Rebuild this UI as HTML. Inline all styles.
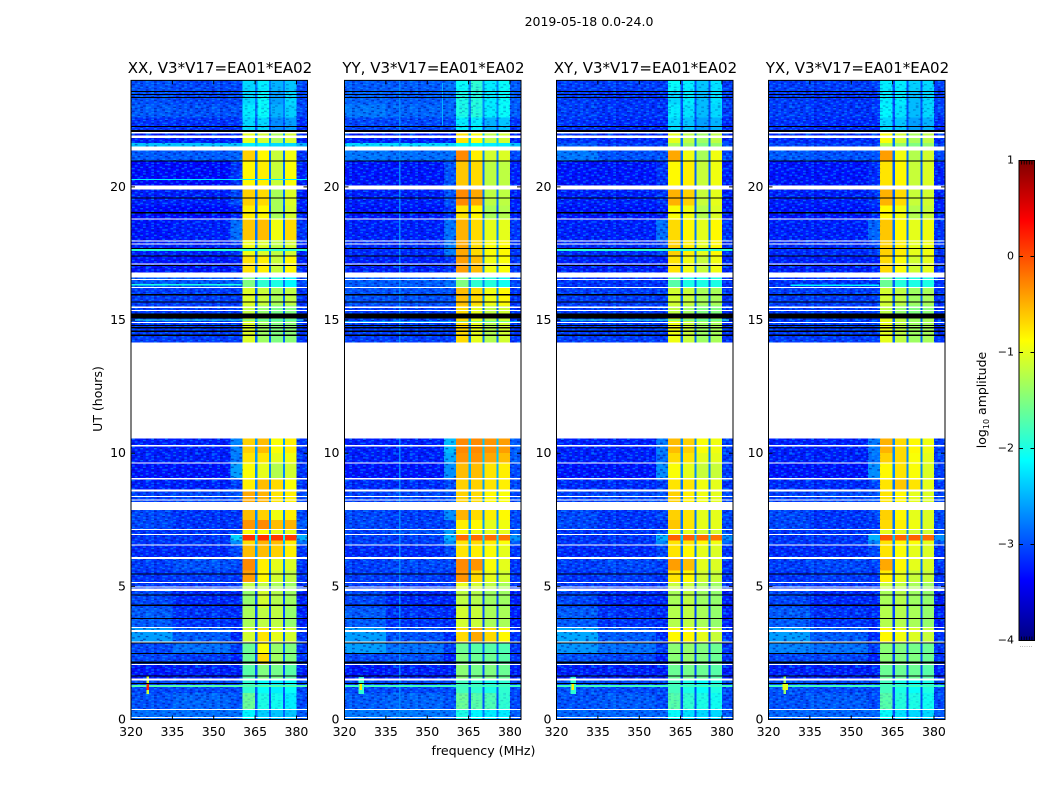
<!DOCTYPE html>
<html>
<head>
<meta charset="utf-8">
<title>2019-05-18 0.0-24.0</title>
<style>
html,body{margin:0;padding:0;background:#fff;}
svg{display:block;}
text{font-family:"DejaVu Sans","Liberation Sans",sans-serif;fill:#000;}
</style>
</head>
<body>
<svg id="figure" xmlns="http://www.w3.org/2000/svg" width="1050" height="800" viewBox="0 0 1050 800">
<text x="589" y="26" font-size="12.5" text-anchor="middle">2019-05-18 0.0-24.0</text>
<text x="483.5" y="755" font-size="12.6" text-anchor="middle">frequency (MHz)</text>
<text x="0" y="0" font-size="12.5" text-anchor="middle" transform="translate(102,399) rotate(-90)">UT (hours)</text>
<text x="0" y="0" font-size="12.5" text-anchor="middle" transform="translate(986,400) rotate(-90)">log<tspan font-size="8" dy="3">10</tspan><tspan dy="-3"> amplitude</tspan></text>
<text x="1026" y="647" font-size="7" style="fill:#999" text-anchor="middle">......</text>
</svg>
<script>
const panelTitles = ["XX, V3*V17=EA01*EA02","YY, V3*V17=EA01*EA02","XY, V3*V17=EA01*EA02","YX, V3*V17=EA01*EA02"];
const freqTicks = [320,335,350,365,380];
const timeTicks = [0,5,10,15,20];
const colorbarTicks = [1,0,-1,-2,-3,-4];
const columnEdges = [320,335,356,360.5,364.9,365.8,370.1,370.8,375.1,375.9,380,384];
const columnField = [0,1,2,3,7,4,7,5,7,6,8];
const timeEdges = [24,23.6,23.1,22.6,22,21.65,21.37,20.95,20.06,19.3,18.8,18,17.4,16.78,16.25,15.55,15.05,14.15,10.56,10,9.62,9.06,8.6,7.86,7.5,7.11,6.92,6.72,6.55,6.05,5.6,5.14,4.82,4.2,3.47,2.9,2.5,2.05,1.5,1,0.39,0];
const xxLevels = [
[-3,-3.05,-3.05,-2.3,-2.2,-2.5,-2.4,-2.8,-3.05],
[-3,-3.05,-3.05,-2.3,-2.1,-2.6,-2.3,-2.8,-3.05],
[-2.95,-3,-3,-2.2,-2.1,-2.5,-2.35,-2.8,-3.05],
[-3.15,-3.15,-3.15,-2.3,-2.3,-2.7,-2.6,-3,-3.2],
[-3.25,-3.25,-3.25,-1,-1.1,-1.3,-1.1,-2.6,-3.25],
[-2.4,-2.4,-2.4,-2.2,-2.2,-2.3,-2.3,-2.4,-2.5],
[-2.95,-2.95,-2.9,-0.65,-0.85,-1.15,-0.95,-2.8,-3.15],
[-3.35,-3.35,-3.15,-0.85,-0.8,-1.15,-0.9,-2.8,-3.25],
[-3.25,-3.25,-3.05,-0.65,-0.7,-1.3,-1.05,-2.8,-3.25],
[-3.35,-3.35,-3.25,-0.8,-0.85,-1.3,-1.1,-2.9,-3.25],
[-3.3,-3.25,-2.85,-0.6,-0.55,-0.95,-0.7,-2.8,-3.15],
[-3.25,-3.25,-3.15,-0.95,-1.05,-1.2,-1.1,-2.8,-3.25],
[-3.3,-3.3,-3.25,-0.75,-0.8,-1.15,-0.85,-2.8,-3.25],
[-2.95,-2.95,-2.95,-1.5,-1.9,-2,-2.15,-2.8,-3.05],
[-3.1,-3.1,-3.1,-1.05,-1.15,-1.3,-1.2,-2.9,-3.15],
[-3.1,-3.1,-3.1,-1.2,-1.4,-1.55,-1.5,-2.9,-3.15],
[-3.1,-3.1,-3.1,-1.05,-1.35,-1.5,-1.45,-2.9,-3.15],
null,
[-3.25,-3.25,-2.75,-0.65,-0.55,-0.9,-0.8,-2.6,-3.15],
[-3.25,-3.25,-2.8,-0.75,-0.75,-1,-0.95,-2.6,-3.15],
[-3.3,-3.3,-2.6,-0.9,-1,-1.25,-1.1,-2.7,-3.15],
[-3.25,-3.25,-3.1,-0.8,-0.55,-0.7,-0.9,-2.7,-3.15],
[-3.1,-3.05,-3,-0.45,-0.5,-0.75,-0.8,-2.7,-3.05],
[-3.05,-3.15,-3.15,-0.55,-0.65,-0.95,-0.8,-2.7,-3.05],
[-3.05,-3.15,-3.15,-0.35,-0.3,-0.55,-0.5,-2.6,-2.95],
[-3.15,-3.15,-3.05,-0.9,-0.9,-1,-1,-2.6,-3.05],
[-3.15,-3.15,-2.3,0.15,0.15,0.1,0.1,-2.2,-2.5],
[-3.15,-3.15,-2.7,-0.7,-0.5,-0.55,-0.8,-2.5,-2.85],
[-3.2,-3.2,-3.05,-0.55,-0.55,-0.65,-0.8,-2.6,-3.15],
[-3.1,-3,-3.05,-0.3,-0.8,-1,-1.05,-2.7,-3.15],
[-3.15,-3.1,-3.15,-0.4,-0.85,-1.1,-1.2,-2.8,-3.15],
[-3.1,-3.15,-3.1,-1.2,-1.2,-1.3,-1.35,-2.9,-3.15],
[-3.05,-3.2,-3.2,-1.4,-1.1,-1.25,-1.35,-3,-3.25],
[-2.95,-3.15,-3.2,-1.3,-1.2,-1.2,-1.4,-3,-3.25],
[-2.6,-2.95,-3.2,-1.1,-0.75,-1,-1.1,-2.9,-3.15],
[-3.05,-2.85,-3.1,-1.6,-0.9,-1.4,-1.5,-2.9,-3.15],
[-3.05,-3.1,-3.25,-1.6,-0.7,-1.35,-1.5,-2.9,-3.15],
[-3.3,-3.25,-3.25,-1.7,-1.5,-1.55,-1.7,-3,-3.25],
[-3.05,-3.05,-3.05,-1.9,-2.1,-2.2,-2.1,-2.9,-3.05],
[-3,-2.9,-3,-1.6,-2,-2.05,-2.2,-3,-3.05],
[-2.85,-2.85,-2.85,-2.15,-2.35,-2.4,-2.4,-2.9,-2.95]];
const yyLevels = [
[-2.95,-2.95,-2.85,-2.1,-1.9,-2.2,-2.1,-2.7,-2.95],
[-2.9,-2.95,-2.9,-2,-1.95,-2.2,-2.1,-2.7,-2.95],
[-2.8,-2.9,-2.9,-2,-1.95,-2.2,-2.1,-2.7,-2.95],
[-3.05,-3.05,-3.05,-2.2,-2.2,-2.5,-2.4,-3,-3.15],
[-3.25,-3.25,-3.25,-0.75,-0.9,-1.2,-1.1,-2.4,-3.25],
[-2.3,-2.3,-2.3,-2.1,-2.1,-2.2,-2.2,-2.3,-2.4],
[-2.8,-2.85,-2.85,-0.3,-0.8,-1.1,-1.05,-2.7,-3.05],
[-3.3,-3.3,-3,-0.6,-0.7,-1.2,-1.2,-2.8,-3.25],
[-3.25,-3.25,-3,-0.3,-0.45,-1.2,-1.2,-2.8,-3.25],
[-3.3,-3.3,-3.15,-0.75,-0.85,-1.3,-1.25,-2.9,-3.25],
[-3.25,-3.25,-2.85,-0.5,-0.7,-1,-1,-2.7,-3.15],
[-3.2,-3.2,-2.8,-0.45,-0.7,-0.9,-0.85,-2.7,-3.15],
[-3.25,-3.25,-3.15,-0.4,-0.55,-0.95,-0.9,-2.7,-3.15],
[-2.95,-2.95,-2.85,-1.5,-1.9,-1.95,-2.05,-2.7,-3.05],
[-3,-3,-3,-0.55,-0.7,-0.95,-0.85,-2.7,-3.15],
[-3.1,-3.1,-3.1,-0.7,-1,-1.2,-1.1,-2.8,-3.15],
[-3.1,-3.1,-3.1,-0.7,-1,-1.25,-1.1,-2.8,-3.15],
null,
[-3.25,-3.25,-2.45,-0.3,-0.3,-0.35,-0.4,-2.4,-2.95],
[-3.25,-3.25,-2.55,-0.35,-0.35,-0.45,-0.55,-2.4,-2.95],
[-3.3,-3.3,-2.7,-0.55,-0.55,-0.75,-0.8,-2.5,-3.05],
[-3.2,-3.2,-3.05,-0.65,-0.65,-0.75,-0.8,-2.6,-3.05],
[-3.1,-3.05,-3,-0.65,-0.7,-0.85,-0.9,-2.6,-3.05],
[-3.05,-3.1,-2.7,-0.5,-0.7,-0.8,-0.85,-2.7,-3.05],
[-3.05,-3.1,-3.05,-0.8,-0.85,-1,-0.95,-2.6,-3.05],
[-3.1,-3,-2.6,-0.9,-0.95,-1,-1,-2.6,-2.95],
[-3.1,-3.1,-2.5,-0.15,-0.15,-0.15,-0.2,-2.3,-2.65],
[-3.1,-3.1,-2.7,-0.75,-0.7,-0.8,-0.9,-2.5,-2.95],
[-3.2,-3.2,-3.05,-0.75,-0.8,-0.9,-1,-2.6,-3.15],
[-3.1,-3.05,-3.05,-0.3,-0.35,-0.9,-1,-2.7,-3.15],
[-3.1,-3.1,-3.15,-0.35,-0.7,-1,-1.1,-2.8,-3.15],
[-3.1,-3.15,-3.1,-1,-1.1,-1.2,-1.3,-2.8,-3.15],
[-3.05,-3.2,-3.2,-1.2,-1.25,-1.35,-1.35,-3,-3.25],
[-2.95,-3.15,-3.2,-1.1,-1.15,-1.3,-1.3,-3,-3.25],
[-2.6,-3,-3.2,-0.7,-0.45,-0.7,-0.85,-2.8,-3.15],
[-2.6,-2.85,-3.1,-1.6,-1.7,-1.7,-1.75,-2.9,-3.15],
[-3.05,-3,-3.25,-1.5,-1.6,-1.6,-1.7,-2.9,-3.15],
[-3.3,-3.25,-3.25,-1.45,-1.55,-1.5,-1.6,-3,-3.25],
[-3.05,-3.05,-3.05,-1.8,-1.9,-2,-1.9,-2.9,-3.05],
[-2.95,-2.9,-3,-1.6,-1.7,-1.75,-1.9,-3,-3.05],
[-2.8,-2.8,-2.85,-2,-2.15,-2.2,-2.2,-2.8,-2.95]];
const xyLevels = [
[-3.1,-3.1,-3.1,-2.1,-2.2,-2.4,-2.25,-3,-3.1],
[-3.1,-3.15,-3.15,-2.3,-2.2,-2.45,-2.25,-3,-3.1],
[-3.1,-3.15,-3.15,-2.2,-2.25,-2.45,-2.3,-3,-3.1],
[-3.15,-3.2,-3.2,-2.3,-2.4,-2.6,-2.5,-3.05,-3.2],
[-3.15,-3.2,-3.2,-1,-1.2,-1.35,-1.2,-2.8,-3.2],
[-2.95,-3.1,-3.1,-1.3,-1.35,-1.5,-1.4,-2.8,-3],
[-2.8,-3,-3,-0.45,-0.95,-1.3,-0.95,-2.8,-3.05],
[-3.3,-3.3,-3.15,-0.85,-0.8,-1.15,-0.95,-2.9,-3.25],
[-3.25,-3.25,-3.15,-0.5,-0.65,-1.15,-1,-2.9,-3.25],
[-3.3,-3.3,-3.25,-0.9,-0.95,-1.25,-1.05,-2.9,-3.25],
[-3.25,-3.25,-2.85,-0.7,-0.85,-1,-0.85,-2.8,-3.15],
[-3.2,-3.2,-3.05,-0.65,-0.8,-1,-0.85,-2.8,-3.15],
[-3.25,-3.25,-3.25,-0.75,-0.95,-1.15,-0.95,-2.8,-3.2],
[-3.15,-3.15,-3.15,-1.7,-2,-2,-2,-2.9,-3.15],
[-3.1,-3.1,-3.1,-1.1,-1.15,-1.3,-1.3,-2.9,-3.15],
[-3.1,-3.1,-3.1,-1.2,-1.35,-1.5,-1.5,-3,-3.15],
[-3.1,-3.1,-3.1,-0.95,-1.15,-1.35,-1.3,-2.9,-3.15],
null,
[-3.25,-3.25,-2.8,-0.55,-0.65,-0.9,-0.95,-2.7,-3.1],
[-3.25,-3.25,-2.85,-0.7,-0.75,-1,-1,-2.7,-3.1],
[-3.3,-3.3,-2.7,-0.9,-1,-1.15,-1.15,-2.7,-3.1],
[-3.2,-3.2,-3.1,-0.75,-0.75,-0.95,-1,-2.8,-3.15],
[-3.1,-3.05,-3,-0.65,-0.8,-0.95,-1,-2.8,-3.05],
[-3.05,-3.15,-3.05,-0.65,-0.75,-1,-1,-2.8,-3.05],
[-3.05,-3.15,-3.15,-0.6,-0.75,-1,-1,-2.8,-3.05],
[-3.15,-3.15,-3.05,-0.95,-1,-1.1,-1.1,-2.7,-3.05],
[-3.15,-3.15,-2.5,-0.1,-0.1,-0.15,-0.2,-2.4,-2.7],
[-3.15,-3.15,-2.75,-0.75,-0.75,-0.85,-0.95,-2.7,-2.95],
[-3.2,-3.2,-3.05,-0.75,-0.85,-1,-1.05,-2.8,-3.15],
[-3.1,-3.05,-3.1,-0.4,-0.55,-1,-1.05,-2.8,-3.15],
[-3.15,-3.1,-3.15,-0.75,-0.85,-1.1,-1.15,-2.9,-3.15],
[-3.1,-3.15,-3.15,-1.15,-1.15,-1.3,-1.35,-3,-3.15],
[-3.05,-3.2,-3.2,-1.3,-1.2,-1.35,-1.4,-3.05,-3.25],
[-2.95,-3.15,-3.2,-1.25,-1.2,-1.3,-1.4,-3.05,-3.25],
[-2.55,-2.95,-3.2,-0.85,-0.85,-1,-1.15,-3,-3.15],
[-2.65,-2.85,-3.1,-1.45,-1.4,-1.5,-1.6,-3,-3.15],
[-3,-3.05,-3.25,-1.45,-1.4,-1.5,-1.6,-3,-3.15],
[-3.25,-3.25,-3.25,-1.6,-1.55,-1.6,-1.7,-3.05,-3.25],
[-3,-3.05,-3.05,-1.8,-2,-2.1,-2,-3,-3.05],
[-3,-2.95,-3.05,-1.7,-1.9,-2,-2.05,-3,-3.05],
[-2.9,-2.9,-2.9,-2.1,-2.25,-2.3,-2.3,-3,-2.95]];
const yxLevels = [
[-3.1,-3.1,-3.1,-2.2,-2.2,-2.35,-2.3,-3,-3.1],
[-3.1,-3.15,-3.15,-2.2,-2.2,-2.45,-2.3,-3,-3.1],
[-3.1,-3.15,-3.15,-2.15,-2.25,-2.45,-2.3,-3,-3.1],
[-3.15,-3.2,-3.2,-2.3,-2.4,-2.6,-2.5,-3.05,-3.2],
[-3.2,-3.2,-3.2,-0.9,-1.1,-1.3,-1.2,-2.8,-3.2],
[-3.05,-3.1,-3.1,-1.3,-1.4,-1.5,-1.4,-2.8,-3.05],
[-2.95,-3,-3,-0.4,-0.95,-1.25,-1.1,-2.8,-3.05],
[-3.3,-3.3,-3.2,-0.75,-0.85,-1.15,-1.05,-2.9,-3.25],
[-3.25,-3.25,-3.15,-0.5,-0.7,-1.15,-1.1,-2.9,-3.25],
[-3.3,-3.3,-3.25,-0.85,-0.95,-1.25,-1.15,-2.9,-3.25],
[-3.25,-3.25,-2.9,-0.6,-0.85,-1,-0.95,-2.8,-3.15],
[-3.2,-3.2,-3.1,-0.65,-0.8,-1,-0.95,-2.8,-3.15],
[-3.25,-3.25,-3.25,-0.7,-0.9,-1.1,-1,-2.8,-3.2],
[-3.15,-3.15,-3.15,-1.6,-1.95,-2,-2,-2.9,-3.15],
[-3.1,-3.1,-3.1,-1.1,-1.2,-1.35,-1.3,-2.9,-3.15],
[-3.1,-3.1,-3.1,-1.2,-1.4,-1.5,-1.45,-3,-3.15],
[-3.1,-3.1,-3.1,-1,-1.2,-1.35,-1.3,-2.9,-3.15],
null,
[-3.25,-3.25,-2.8,-0.5,-0.7,-0.85,-0.95,-2.7,-3.1],
[-3.25,-3.25,-2.85,-0.65,-0.7,-0.9,-1,-2.7,-3.1],
[-3.3,-3.3,-2.7,-0.85,-0.75,-0.9,-1.05,-2.7,-3.1],
[-3.2,-3.2,-3.1,-0.75,-0.6,-0.75,-1,-2.8,-3.15],
[-3.1,-3.05,-3,-0.75,-0.85,-1,-1.05,-2.8,-3.05],
[-3.05,-3.15,-3.05,-0.65,-0.85,-1,-1.05,-2.8,-3.05],
[-3.05,-3.15,-3.15,-0.7,-0.8,-0.95,-1.05,-2.8,-3.05],
[-3.15,-3.15,-3.05,-1,-1,-1.1,-1.1,-2.7,-3.05],
[-3.15,-3.15,-2.5,-0.05,-0.1,-0.1,-0.15,-2.4,-2.7],
[-3.15,-3.15,-2.75,-0.75,-0.85,-0.9,-1,-2.7,-2.95],
[-3.2,-3.2,-3.05,-0.75,-0.9,-1,-1.05,-2.8,-3.15],
[-3.1,-3.05,-3.1,-0.45,-0.85,-1,-1.05,-2.8,-3.15],
[-3.15,-3.1,-3.15,-0.8,-1,-1.15,-1.15,-2.9,-3.15],
[-3.1,-3.15,-3.15,-1.15,-1.2,-1.3,-1.35,-3,-3.15],
[-3.05,-3.2,-3.2,-1.3,-1.25,-1.35,-1.4,-3.05,-3.25],
[-2.95,-3.15,-3.2,-1.25,-1.25,-1.3,-1.4,-3.05,-3.25],
[-2.6,-2.95,-3.2,-0.85,-0.95,-1.05,-1.15,-3,-3.15],
[-2.75,-2.85,-3.1,-1.45,-1.5,-1.55,-1.6,-3,-3.15],
[-3.05,-3.05,-3.25,-1.45,-1.5,-1.5,-1.6,-3,-3.15],
[-3.25,-3.25,-3.25,-1.6,-1.6,-1.6,-1.7,-3.05,-3.25],
[-3,-3.05,-3.05,-1.8,-2,-2.1,-2,-3,-3.05],
[-3,-2.95,-3.05,-1.7,-1.95,-2,-2.05,-3,-3.05],
[-2.9,-2.9,-2.9,-2.1,-2.25,-2.3,-2.3,-3,-2.95]];
const panelLevels = [xxLevels,yyLevels,xyLevels,yxLevels];
const whiteFlags = [[22.06,22],[21.93,21.84],[21.52,21.37],[20.06,19.91],[18.82,18.78],[17.99,17.95],[17.88,17.84],[17.13,17.09],[16.78,16.59],[16.55,16.51],[16.25,16.21],[15.5,15.46],[15.38,15.35],[14.92,14.88],[14.15,10.56],[10.3,10.26],[9.66,9.62],[9.06,9.02],[8.64,8.57],[8.39,8.35],[8.26,8.22],[8.16,7.86],[7.15,7.11],[6.96,6.92],[6.58,6.55],[6.1,6.03],[5.16,5.12],[4.99,4.96],[4.92,4.82],[3.47,3.43],[3.36,3.28],[2.93,2.89],[2.08,2.04],[1.54,1.46],[0.39,0.36],[0.09,0.06]];
const blackFlags = [[23.61,23.57],[23.49,23.45],[23.38,23.34],[22.29,22.25],[22.14,22.06],[20.99,20.95],[19.61,19.57],[19.05,19.01],[17.7,17.66],[17.42,17.38],[17.07,17.03],[15.97,15.93],[15.7,15.66],[15.24,15.05],[14.82,14.78],[14.73,14.69],[14.6,14.56],[14.45,14.41],[5.48,5.44],[4.7,4.66],[4.31,4.27],[3.82,3.78],[2.89,2.85],[2.5,2.46],[2.17,2.11],[1.66,1.62],[1.38,1.34]];
const xxStreaks = [[20.29,20.25,320,384,-2.2],[17.66,17.6,320,384,-1.9],[16.35,16.29,320,360,-2],[15.03,14.98,320,384,-1.9],[1.3,1.22,320,384,-1.7],[1.65,0.95,325.6,326.6,-1.1],[1.35,1.1,325.6,326.6,0.2]];
const yyStreaks = [[23.9,22.3,355.3,355.8,-2.5],[24,0.1,339.7,340.3,-2.7],[14.95,14.9,320,384,-2],[1.3,1.22,320,384,-1.8],[1.6,0.95,325,327,-1.9],[1.35,1.1,325.4,326.4,-0.8],[8.6,8.56,320,360,-2.5]];
const xyStreaks = [[17.66,17.6,320,384,-1.9],[15.03,14.98,320,384,-1.9],[1.3,1.22,320,384,-1.8],[1.6,0.95,325,327,-1.9],[1.35,1.1,325.4,326.4,-0.8]];
const yxStreaks = [[16.33,16.27,328,360,-2.2],[1.3,1.22,320,384,-1.8],[1.65,0.95,325.4,326.4,-1.4],[1.35,1.1,325,327,-1]];
const panelStreaks = [xxStreaks,yyStreaks,xyStreaks,yxStreaks];
const speckleGrid = [
"l..d.ll...d.l..d...l.d.l",
".d...l..d....l.l.d.....d",
"..ld...l.l.d.....l..dl..",
"d....l..d...ll.d...l....",
".l.d...l....d...l.d..l.d",
"...l.dl...l...d....l....",
"l.d.....d..l.l...dl..d.l",
"..l..d.l...d....l.....l.",
".d..l....l...d.l..d.l...",
"l....d.ld...l.....l...d.",
"..d.l.....l.d..l.d...l..",
".l..d..l.d....l.....d..l",
"d..l...d...ll...d.l.....",
"..l..l...d.....l....l.d.",
".d.....l...l.d...dl.....",
"l..d.l..d....l.d.....l.d",
"...l....l.d.....l.d.l...",
".ld..d....l.d.l......d.l",
"d....l.l.....d...l.l....",
"..l.d....d.l...l.d...d.l"];

const NS = "http://www.w3.org/2000/svg";
const svg = document.getElementById("figure");
const panelLefts = [131,344.5,556.5,768.5];
const panelWidth = 176.5;
const yScale = t => 719.5 - 26.63 * t;
const xScale = (p, f) => panelLefts[p] + (f - 320) * panelWidth / 64;
const clamp = v => Math.max(0, Math.min(1, v));
function jet(level) {
  const n = clamp((level + 4) / 5);
  const r = clamp(1.5 - Math.abs(4 * n - 3));
  const g = clamp(1.5 - Math.abs(4 * n - 2));
  const b = clamp(1.5 - Math.abs(4 * n - 1));
  return "rgb(" + Math.round(r * 255) + "," + Math.round(g * 255) + "," + Math.round(b * 255) + ")";
}
function make(tag, parent, props) {
  const el = document.createElementNS(NS, tag);
  for (const k in props) el.setAttribute(k, props[k]);
  parent.appendChild(el);
  return el;
}

const defs = make("defs", svg, {});
const speckle = make("pattern", defs, {id:"speckle", patternUnits:"userSpaceOnUse", width:66, height:26.664});
speckleGrid.forEach((line, r) => {
  for (let c = 0; c < line.length; c++) {
    if (line[c] === ".") continue;
    make("rect", speckle, {x:c * 2.75, y:r * 1.3332, width:2.75, height:1.3332,
      fill: line[c] === "l" ? "rgba(0,170,255,0.55)" : "rgba(0,0,140,0.5)"});
  }
});
const barGradient = make("linearGradient", defs, {id:"jet-ramp", x1:0, y1:1, x2:0, y2:0});
for (let i = 0; i <= 40; i++) {
  make("stop", barGradient, {offset:(i / 40), "stop-color":jet(-4 + i / 8)});
}

panelTitles.forEach((title, p) => {
  const g = make("g", svg, {});
  
  
  const left = panelLefts[p];
  const levels = panelLevels[p];

  levels.forEach((row, r) => {
    if (!row) return;
    const yTop = yScale(timeEdges[r]);
    const yBot = yScale(timeEdges[r + 1]);
    columnField.forEach((field, c) => {
      const x0 = xScale(p, columnEdges[c]);
      const x1 = xScale(p, columnEdges[c + 1]);
      const cell = make("rect", g, {x:x0, y:yTop, width:x1 - x0, height:yBot - yTop, fill:jet(row[field]), "shape-rendering":"crispEdges"});
      
      
    });
  });

  const speckleAreas = [[320,360.5,24,0,1],[380,384,24,0,1],[360.5,380,23.9,22.2,0.55],[360.5,380,1,0,0.3]];
  speckleAreas.forEach(a => {
    const area = make("rect", g, {x:xScale(p, a[0]), y:yScale(a[2]), width:xScale(p, a[1]) - xScale(p, a[0]), height:yScale(a[3]) - yScale(a[2]), fill:"url(#speckle)", opacity:a[4]});
    
    
  });

  panelStreaks[p].forEach(s => {
    const streak = make("rect", g, {x:xScale(p, s[2]), y:yScale(s[0]), width:xScale(p, s[3]) - xScale(p, s[2]), height:Math.max(1, yScale(s[1]) - yScale(s[0])), fill:jet(s[4]), "shape-rendering":"crispEdges"});
    
    
  });

  whiteFlags.forEach(f => {
    const flag = make("rect", g, {x:left, y:yScale(f[0]), width:panelWidth, height:Math.max(1, yScale(f[1]) - yScale(f[0])), fill:"#fff", "shape-rendering":"crispEdges"});
    
    
  });
  blackFlags.forEach(f => {
    const flag = make("rect", g, {x:left, y:yScale(f[0]), width:panelWidth, height:Math.max(1, yScale(f[1]) - yScale(f[0])), fill:"#000", "shape-rendering":"crispEdges"});
    
    
  });

  const frame = make("rect", g, {x:left, y:yScale(24), width:panelWidth, height:yScale(0) - yScale(24), fill:"none", stroke:"#000", "stroke-width":1});
  
  

  const titleEl = make("text", g, {x:left + panelWidth / 2 + 0.7, y:73, "font-size":15, "text-anchor":"middle"});
  titleEl.textContent = title;
  
  

  freqTicks.forEach(f => {
    const x = xScale(p, f);
    [[yScale(0), yScale(0) - 4],[yScale(24), yScale(24) + 4]].forEach(seg => {
      const tick = make("line", g, {x1:x, x2:x, y1:seg[0], y2:seg[1], stroke:"#000", "stroke-width":1});
      
      
    });
    const label = make("text", g, {x:x, y:736, "font-size":12.5, "text-anchor":"middle"});
    label.textContent = f;
    
    
  });
  timeTicks.forEach(t => {
    const y = yScale(t);
    [[left, left + 4],[left + panelWidth, left + panelWidth - 4]].forEach(seg => {
      const tick = make("line", g, {x1:seg[0], x2:seg[1], y1:y, y2:y, stroke:"#000", "stroke-width":1});
      
      
    });
    const label = make("text", g, {x:left - 5, y:y + 4, "font-size":12.5, "text-anchor":"end"});
    label.textContent = t;
    
    
  });
});

const barLeft = 1019, barWidth = 15.5, barTop = 160.5, barHeight = 480;
const barY = v => barTop + (1 - v) * barHeight / 5;
const bar = make("rect", svg, {x:barLeft, y:barTop, width:barWidth, height:barHeight, fill:"url(#jet-ramp)", stroke:"#000", "stroke-width":1});


colorbarTicks.forEach(v => {
  const y = barY(v);
  [[barLeft, barLeft + 4],[barLeft + barWidth, barLeft + barWidth - 4]].forEach(seg => {
    const tick = make("line", svg, {x1:seg[0], x2:seg[1], y1:y, y2:y, stroke:"#000", "stroke-width":1});
    
    
  });
  const label = make("text", svg, {x:1014, y:y + 3, "font-size":11, "text-anchor":"end"});
  label.textContent = v < 0 ? "\u2212" + Math.abs(v) : v;
  
  
});
for (let i = 1; i <= 5; i++) {
  const x = barLeft + i * barWidth / 6;
  [[barTop, barTop + 4],[barTop + barHeight, barTop + barHeight - 4]].forEach(seg => {
    const tick = make("line", svg, {x1:x, x2:x, y1:seg[0], y2:seg[1], stroke:"#000", "stroke-width":0.8});
    
    
  });
}
</script>
</body>
</html>
